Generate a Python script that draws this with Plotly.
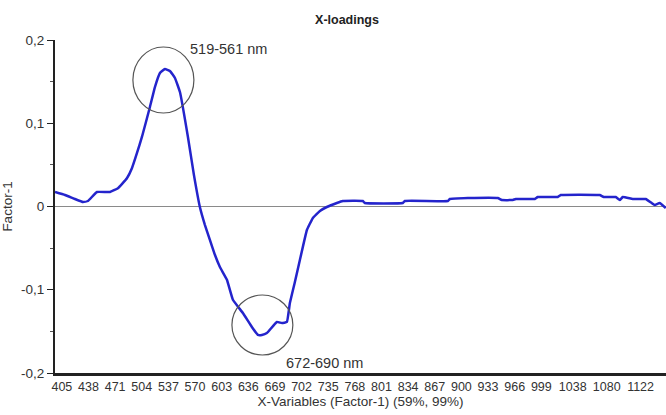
import plotly.graph_objects as go

wavelength_nm = [396.5, 408.9, 421.2, 431.2, 437.3, 448.5, 464.6, 474.5, 485.6, 491.8,
                 498.0, 504.2, 514.1, 520.3, 526.5, 532.7, 538.9, 545.1, 551.3, 561.2,
                 568.6, 576.0, 582.2, 588.4, 594.6, 600.8, 609.5, 616.9, 629.3, 640.4,
                 647.9, 652.8, 659.0, 671.4, 677.6, 683.8, 687.5, 693.7, 699.9, 708.6,
                 716.0, 724.7, 733.3, 745.7, 753.1, 777.9, 780.4, 827.4, 829.9, 883.2,
                 885.6, 907.9, 945.1, 950.0, 963.7, 967.4, 991.0, 994.6, 1019.4, 1023.1,
                 1071.4, 1076.4, 1091.2, 1096.2, 1099.9, 1112.3, 1121.0, 1128.4, 1135.8, 1139.5,
                 1145.7, 1153.2]
factor1 = [0.0174, 0.0138, 0.0090, 0.0054, 0.0066, 0.0174, 0.0174, 0.022, 0.034, 0.046,
           0.064, 0.0835, 0.1195, 0.1435, 0.1604, 0.1652, 0.1628, 0.1544, 0.1375, 0.0835,
           0.038, -0.0006, -0.022, -0.040, -0.058, -0.0727, -0.088, -0.112, -0.128, -0.1447,
           -0.1543, -0.1543, -0.152, -0.1387, -0.140, -0.1387, -0.116, -0.0907, -0.0643, -0.0282,
           -0.0138, -0.0054, -0.0006, 0.0042, 0.0066, 0.0066, 0.0042, 0.0042, 0.0066, 0.0066,
           0.009, 0.0102, 0.0102, 0.0078, 0.0078, 0.009, 0.009, 0.0114, 0.0114, 0.0138,
           0.0138, 0.0114, 0.0114, 0.0078, 0.0114, 0.009, 0.009, 0.009, 0.0042, 0.0018,
           0.0042, -0.0018]

x_tick_vals = [405, 438, 471, 504, 537, 570, 603, 636, 669, 702, 735, 768, 801, 834,
               867, 900, 933, 966, 999, 1038, 1080, 1122]
x_tick_text = [str(v) for v in x_tick_vals]
y_tick_vals = [-0.2, -0.1, 0, 0.1, 0.2]
y_tick_text = ["-0,2", "-0,1", "0", "0,1", "0,2"]

# highlighted regions (circles) in data coordinates
circle1 = dict(x0=493, x1=568.6, y0=0.1123, y1=0.1916)
circle2 = dict(x0=615.7, x1=691.2, y0=-0.1784, y1=-0.1063)

FONT = "Liberation Sans, Arial, sans-serif"

fig = go.Figure()
fig.add_trace(go.Scatter(x=wavelength_nm, y=factor1, mode="lines",
                         line=dict(color="#2424cc", width=2.5, shape="spline", smoothing=0.3),
                         showlegend=False, hoverinfo="skip"))

fig.add_shape(type="line", xref="paper", yref="y", x0=0, x1=1, y0=0, y1=0,
              line=dict(color="#8a8a8a", width=1), layer="below")
for c in (circle1, circle2):
    fig.add_shape(type="circle", xref="x", yref="y", **c,
                  line=dict(color="#555555", width=1.2))

fig.add_annotation(x=circle1["x1"] - 7, y=circle1["y1"] - 0.003, xref="x", yref="y",
                   text="519-561 nm", showarrow=False, xanchor="left", yanchor="middle",
                   font=dict(family=FONT, size=14.5, color="#333333"))
fig.add_annotation(x=circle2["x1"] - 11, y=circle2["y0"] - 0.0095, xref="x", yref="y",
                   text="672-690 nm", showarrow=False, xanchor="left", yanchor="middle",
                   font=dict(family=FONT, size=14.5, color="#333333"))

fig.update_layout(
    width=666, height=415,
    margin=dict(l=55, r=0, t=40, b=42),
    paper_bgcolor="white", plot_bgcolor="white",
    font=dict(family=FONT, size=13, color="#333333"),
    title=dict(text="<b>X-loadings</b>", x=347 / 666, xanchor="center", y=1 - 20 / 415,
               yanchor="middle", font=dict(family=FONT, size=12.5, color="#222222")),
    xaxis=dict(range=[396.5, 1153.5], tickmode="array", tickvals=x_tick_vals,
               ticktext=x_tick_text, showgrid=False, zeroline=False, automargin=False,
               showline=True, linecolor="#222222", linewidth=3, ticks="", tickangle=0,
               tickfont=dict(size=12.5, color="#333333"),
               title=dict(text="X-Variables (Factor-1) (59%, 99%)", standoff=3,
                          font=dict(size=13.5, color="#333333"))),
    yaxis=dict(range=[-0.2, 0.2], tickmode="array", tickvals=y_tick_vals,
               ticktext=y_tick_text, showgrid=False, zeroline=False, automargin=False,
               showline=True, linecolor="#222222", linewidth=2, ticks="outside",
               ticklen=6, tickcolor="#222222", tickwidth=1,
               minor=dict(dtick=0.05, ticks="outside", ticklen=3, tickcolor="#555555"),
               tickfont=dict(size=13.5, color="#333333"),
               title=dict(text="Factor-1", standoff=13, font=dict(size=13.5, color="#333333"))),
)

fig.write_html("out.html")
